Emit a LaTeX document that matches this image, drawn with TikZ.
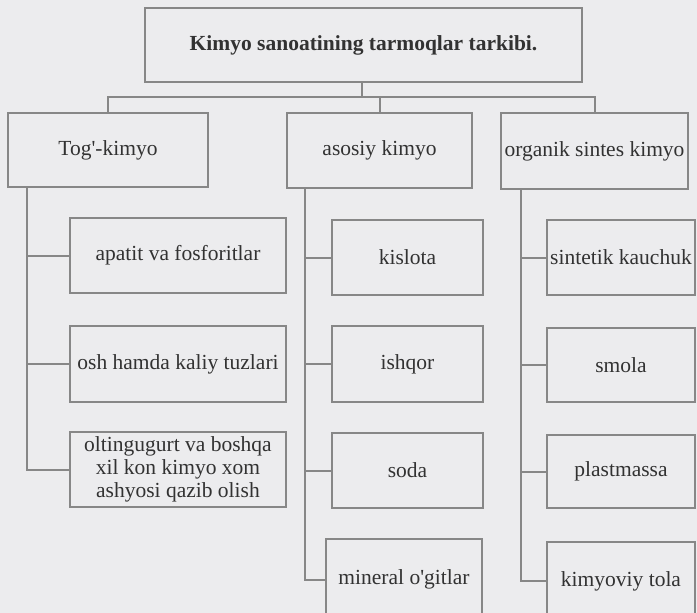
\documentclass[tikz,border=0pt]{standalone}
\usepackage{fontspec}
\setmainfont{Liberation Serif}
\definecolor{paper}{RGB}{236,236,238}
\definecolor{ink}{RGB}{50,50,50}
\definecolor{rulec}{RGB}{135,135,135}
\begin{document}
\begin{tikzpicture}[x=1pt,y=-1pt,
  box/.style={draw=rulec, line width=2pt, inner sep=0pt, align=center, text=ink,
              font=\fontsize{21.5}{23}\selectfont},
  link/.style={draw=rulec, line width=2pt}]
\fill[paper] (0,0) rectangle (697,613);
\useasboundingbox (0,0) rectangle (697,613);
\clip (0,0) rectangle (697,613);

% title
\node[box, font=\bfseries\fontsize{21.5}{23}\selectfont, minimum width=437pt, minimum height=74pt] (title) at (363.5,45) {Kimyo sanoatining tarmoqlar tarkibi.};

% row 1
\node[box, minimum width=200pt, minimum height=74pt] (tog) at (108,150) {Tog\textquotesingle-kimyo};
\node[box, minimum width=185pt, minimum height=75pt] (asosiy) at (379.5,150.5) {asosiy kimyo};
\node[box, minimum width=187pt, minimum height=76pt] (organik) at (594.5,151) {organik sintes kimyo};

% left column
\node[box, minimum width=216pt, minimum height=75pt] (apatit) at (178,255.5) {apatit va fosforitlar};
\node[box, minimum width=216pt, minimum height=76pt] (osh) at (178,364) {osh hamda kaliy tuzlari};
\node[box, minimum width=216pt, minimum height=75pt] (olt) at (178,469.5) {oltingugurt va boshqa\\xil kon kimyo xom\\ashyosi qazib olish};

% middle column
\node[box, minimum width=151pt, minimum height=75pt] (kislota) at (407.5,257.5) {kislota};
\node[box, minimum width=151pt, minimum height=76pt] (ishqor) at (407.5,364) {ishqor};
\node[box, minimum width=151pt, minimum height=75pt] (soda) at (407.5,470.5) {soda};
\node[box, minimum width=156pt, minimum height=81pt] (mineral) at (404,579.5) {mineral o\textquotesingle gitlar};

% right column
\node[box, minimum width=148pt, minimum height=75pt] (sintetik) at (621,257.5) {sintetik kauchuk};
\node[box, minimum width=148pt, minimum height=74pt] (smola) at (621,365) {smola};
\node[box, minimum width=148pt, minimum height=73pt] (plast) at (621,471.5) {plastmassa};
\node[box, minimum width=148pt, minimum height=78pt] (kimyoviy) at (621,581) {kimyoviy tola};

% bus
\coordinate (j0) at (362,97);
\draw[link] (title.south -| j0) -- (j0);
\draw[link] (tog.north) |- (organik.north |- j0) -- (organik.north);
\draw[link] (asosiy.north) -- (asosiy.north |- j0);

% trunks
\coordinate (tL) at (27,0);
\coordinate (tM) at (305,0);
\coordinate (tR) at (521,0);
\draw[link] (tog.south -| tL) |- (olt.west);
\draw[link] (apatit.west -| tL) -- (apatit.west);
\draw[link] (osh.west -| tL) -- (osh.west);

\draw[link] (asosiy.south -| tM) |- (mineral.west);
\draw[link] (kislota.west -| tM) -- (kislota.west);
\draw[link] (ishqor.west -| tM) -- (ishqor.west);
\draw[link] (soda.west -| tM) -- (soda.west);

\draw[link] (organik.south -| tR) |- (kimyoviy.west);
\draw[link] (sintetik.west -| tR) -- (sintetik.west);
\draw[link] (smola.west -| tR) -- (smola.west);
\draw[link] (plast.west -| tR) -- (plast.west);
\end{tikzpicture}
\end{document}
